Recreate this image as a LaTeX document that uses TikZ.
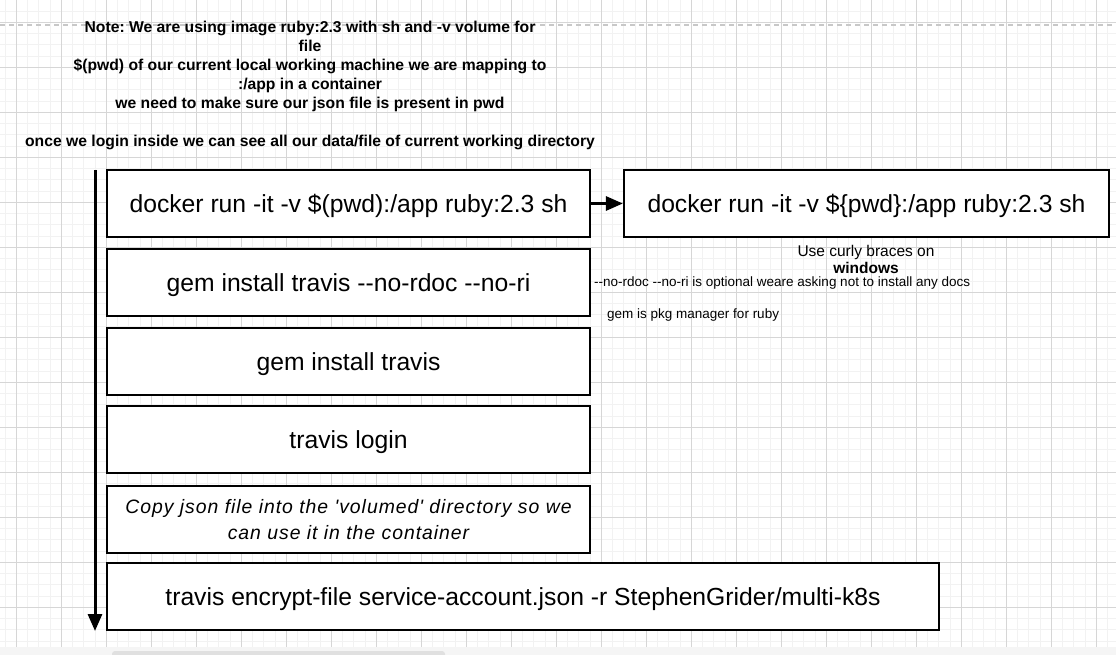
\documentclass[tikz,border=0pt]{standalone}
\usepackage{fontspec}
\setmainfont{Liberation Sans}[Ligatures=TeXOff]
\newfontfamily\spacedfont{Liberation Sans}[LetterSpace=5,Ligatures=TeXOff]
\usetikzlibrary{arrows.meta}
\definecolor{gridminor}{HTML}{F2F2F2}
\definecolor{gridmajor}{HTML}{D6D6D6}
\definecolor{dashgrey}{HTML}{C8C8C8}
\definecolor{bandgrey}{HTML}{F5F5F5}
\definecolor{bargrey}{HTML}{E0E0E0}
\tikzset{
  stepbox/.style={draw=black, line width=2.2pt, fill=white, minimum height=67pt, inner sep=0pt,
    font=\fontsize{24.7}{29}\selectfont, align=center, text height=18.8pt, text depth=0pt},
  notetext/.style={font=\bfseries\fontsize{15.7}{19}\selectfont, align=center, inner sep=0pt},
  smalltext/.style={font=\fontsize{13.5}{16}\selectfont, inner sep=0pt, anchor=west},
  flow/.style={line width=3pt, -{Triangle[length=17pt,width=14pt]}},
}
\begin{document}
\frenchspacing
\begin{tikzpicture}[x=1pt,y=-1pt]
\useasboundingbox (0,0) rectangle (1116,655);
\fill[white] (0,0) rectangle (1116,655);
% grid
\foreach \x in {5,16.25,...,1116} \draw[gridminor, line width=1pt] (\x,0) -- (\x,655);
\foreach \y in {-0.2,11.05,...,655} \draw[gridminor, line width=1pt] (0,\y) -- (1116,\y);
\foreach \k in {0,...,24} \draw[gridmajor, line width=1pt] (16.3+45*\k,0) -- (16.3+45*\k,655);
\foreach \k in {0,...,14} \draw[gridmajor, line width=1pt] (0,22.3+45*\k) -- (1116,22.3+45*\k);
\draw[dashgrey, line width=1.3pt, dash pattern=on 5pt off 4pt] (0,25) -- (1116,25);
% bottom band
\fill[bandgrey] (0,647) rectangle (1116,655);
\fill[bargrey, rounded corners=3pt] (112,651) rectangle (445,658);

% note
\node[notetext] (note) at (310,85.5) {Note: We are using image ruby:2.3 with sh and -v volume for\\file\\\$(pwd) of our current local working machine we are mapping to\\:/app in a container\\we need to make sure our json file is present in pwd\\[19pt]once we login inside we can see all our data/file of current working directory};

% boxes
\node[stepbox, minimum width=483pt] (b1) at (348.5,203.5) {docker run -it -v \$(pwd):/app ruby:2.3 sh};
\node[stepbox, minimum width=485pt] (b2) at (866.5,203.5) {docker run -it -v \$\{pwd\}:/app ruby:2.3 sh};
\node[stepbox, minimum width=483pt] (b3) at (348.5,282.5) {gem install travis --no-rdoc --no-ri};
\node[stepbox, minimum width=483pt] (b4) at (348.5,361.5) {gem install travis};
\node[stepbox, minimum width=483pt] (b5) at (348.5,439.5) {travis login};
\node[stepbox, minimum width=483pt, text height=, text depth=, font=\spacedfont\itshape\fontsize{19.4}{26.5}\selectfont] (b6) at (348.5,519.5) {Copy json file into the 'volumed' directory so we\\can use it in the container};
\node[stepbox, minimum width=832pt] (b7) at (523,596.5) {travis encrypt-file service-account.json -r StephenGrider/multi-k8s};

% side texts
\node[font=\fontsize{15.5}{16.5}\selectfont, align=center, inner sep=0pt] (curly) at (866,259.5) {Use curly braces on\\\textbf{windows}};
\node[smalltext] (nordoc) at (594,283) {--no-rdoc --no-ri is optional weare asking not to install any docs};
\node[smalltext] (gemnote) at (607,315.5) {gem is pkg manager for ruby};

% connectors
\coordinate (vtop) at (95,170);
\coordinate (vbot) at (95,631);
\draw[flow] (vtop) -- (vbot);
\draw[flow] (b1.east) -- (b2.west);
\end{tikzpicture}
\end{document}
